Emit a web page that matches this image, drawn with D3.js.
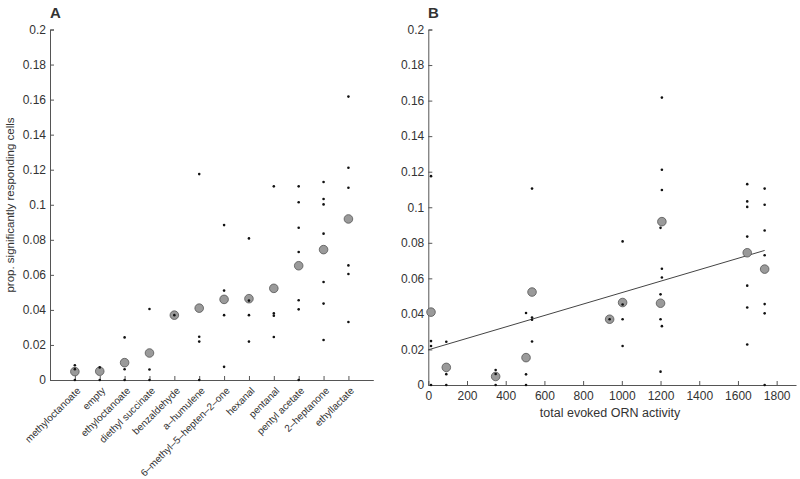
<!DOCTYPE html>
<html><head><meta charset="utf-8">
<script src="https://cdn.jsdelivr.net/npm/d3@7"></script>
<style>
body{margin:0;background:#fff;}
text{font-family:"Liberation Sans",Arial,Helvetica,sans-serif;fill:#333;}
</style></head>
<body><svg id="c" width="800" height="479"></svg>
<script>
const odors = ["methyloctanoate","empty","ethyloctanoate","diethyl succinate","benzaldehyde","a\u2013humulene","6\u2013methyl\u20135\u2013hepten\u20132\u2013one","hexanal","pentanal","pentyl acetate","2\u2013heptanone","ethyllactate"];
const means = [0.0048,0.0050,0.0099,0.0154,0.0370,0.0410,0.0460,0.0464,0.0523,0.0652,0.0744,0.0919];
const dots = [
  [0.0084,0.0062,0],
  [0.0072,0],
  [0.0243,0.0061,0],
  [0.0405,0.0060,0],
  [0.0370],
  [0.1175,0.0247,0.0219,0],
  [0.0884,0.0510,0.0370,0.0075],
  [0.0808,0.0453,0.0370,0.0219],
  [0.1105,0.0380,0.0367,0.0245],
  [0.1105,0.1014,0.0869,0.0730,0.0455,0.0403,0],
  [0.1130,0.1033,0.1002,0.0835,0.0559,0.0436,0.0228],
  [0.1617,0.1211,0.1097,0.0654,0.0605,0.0331]
];
const ornActivity = [348,null,93,505,937,14,1200,1004,536,1738,1648,1207];
const fitX = [0,1738];
const fitY = [0.0198,0.0757];
const yTicks = [0,0.02,0.04,0.06,0.08,0.1,0.12,0.14,0.16,0.18,0.2];
const xTicksB = [0,200,400,600,800,1000,1200,1400,1600,1800];

const svg = d3.select("#c");
const axisCol = "#555";
const fmt = d3.format("~g");

function styleAxis(g){
  g.select(".domain").attr("stroke",axisCol);
  g.selectAll(".tick line").attr("stroke",axisCol);
  g.selectAll(".tick text").style("font-size","12px").attr("fill","#333");
}

// ---- Panel A ----
const xA = d3.scaleLinear().domain([0,13]).range([50,373.3]);
const yA = d3.scaleLinear().domain([0,0.2]).range([380,29.5]);
const gA = svg.append("g");
gA.append("g").attr("transform","translate(50,0)")
  .call(d3.axisLeft(yA).tickValues(yTicks).tickFormat(fmt).tickSizeInner(-4).tickSizeOuter(-4).tickPadding(4))
  .call(styleAxis);
gA.append("g").attr("transform","translate(0,380)")
  .call(d3.axisBottom(xA).tickValues(d3.range(1,13)).tickFormat(()=>"").tickSizeInner(-4).tickSizeOuter(0))
  .call(styleAxis);
odors.forEach((o,i)=>{
  gA.append("text").attr("transform",`translate(${xA(i+1)+1},${386}) rotate(-45)`)
    .attr("text-anchor","end").attr("dy","0.75em").style("font-size","10px").text(o);
});
odors.forEach((o,i)=>{
  gA.append("circle").attr("cx",xA(i+1)).attr("cy",yA(means[i])).attr("r",4.3)
    .attr("fill","#9a9a9a").attr("stroke","#555").attr("stroke-width",0.8);
});
dots.forEach((arr,i)=>arr.forEach(v=>{
  gA.append("circle").attr("cx",xA(i+1)).attr("cy",yA(v)).attr("r",1.3).attr("fill","#111");
}));
gA.append("text").attr("transform","translate(14,205) rotate(-90)").attr("text-anchor","middle")
  .style("font-size","11.5px").text("prop. significantly responding cells");
gA.append("text").attr("x",50).attr("y",18).style("font-size","15px").style("font-weight","bold").attr("fill","#222").text("A");

// ---- Panel B ----
const xB = d3.scaleLinear().domain([0,1900]).range([428.3,796]);
const yB = d3.scaleLinear().domain([0,0.2]).range([385,29.5]);
const gB = svg.append("g");
gB.append("g").attr("transform","translate(428.3,0)")
  .call(d3.axisLeft(yB).tickValues(yTicks).tickFormat(fmt).tickSizeInner(-4).tickSizeOuter(-4).tickPadding(4))
  .call(styleAxis);
gB.append("g").attr("transform","translate(0,385)")
  .call(d3.axisBottom(xB).tickValues(xTicksB).tickFormat(d3.format("d")).tickSizeInner(-4).tickSizeOuter(0).tickPadding(6))
  .call(styleAxis);
gB.append("path").datum(fitX.map((x,i)=>[x,fitY[i]]))
  .attr("d",d3.line().x(d=>xB(d[0])).y(d=>yB(d[1])))
  .attr("stroke","#444").attr("stroke-width",1).attr("fill","none");
odors.forEach((o,i)=>{
  if(ornActivity[i]===null) return;
  gB.append("circle").attr("cx",xB(ornActivity[i])).attr("cy",yB(means[i])).attr("r",4.3)
    .attr("fill","#9a9a9a").attr("stroke","#555").attr("stroke-width",0.8);
});
dots.forEach((arr,i)=>{
  if(ornActivity[i]===null) return;
  arr.forEach(v=>{
    gB.append("circle").attr("cx",xB(ornActivity[i])).attr("cy",yB(v)).attr("r",1.3).attr("fill","#111");
  });
});
gB.append("text").attr("x",610).attr("y",417).attr("text-anchor","middle")
  .style("font-size","12.5px").text("total evoked ORN activity");
gB.append("text").attr("x",428).attr("y",18).style("font-size","15px").style("font-weight","bold").attr("fill","#222").text("B");
</script></body></html>
